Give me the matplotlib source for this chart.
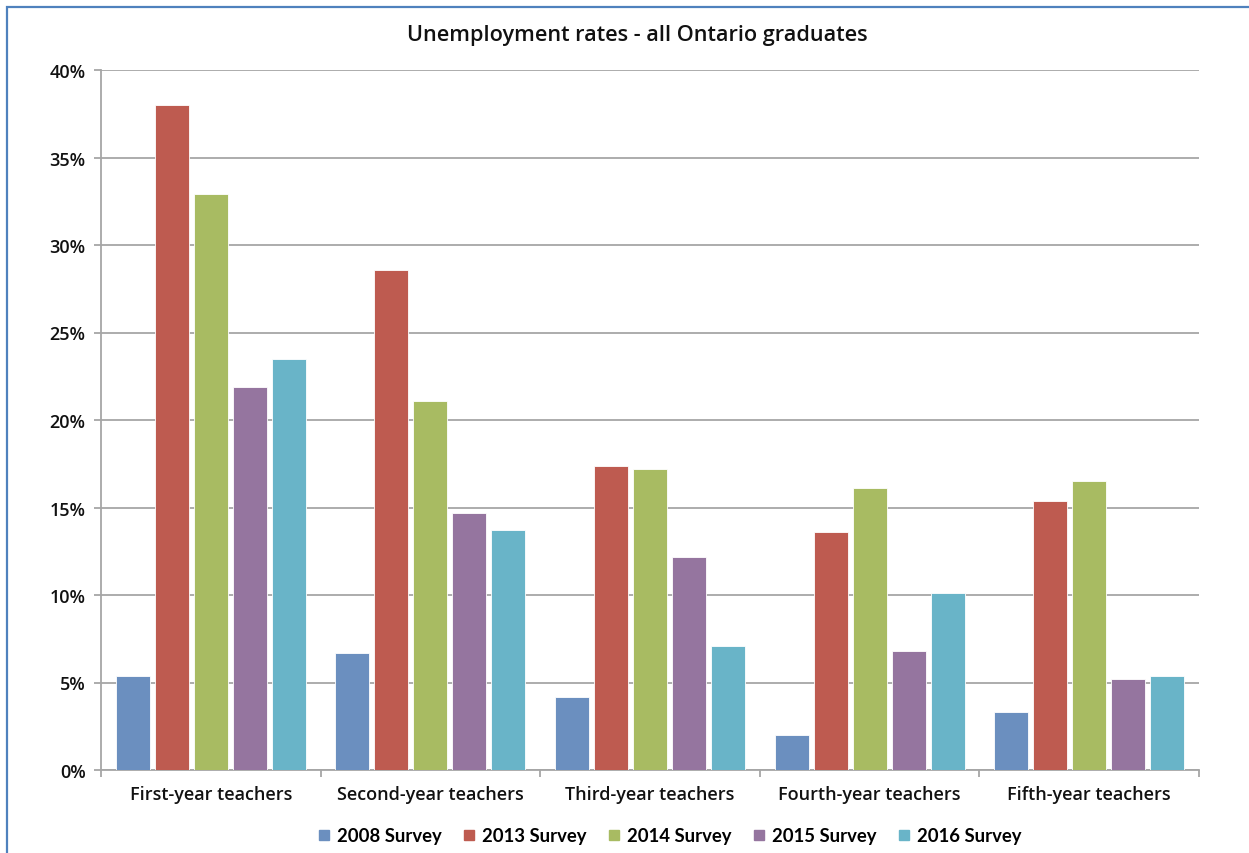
import matplotlib
matplotlib.use("Agg")
import matplotlib.pyplot as plt
import numpy as np
from matplotlib.patches import Rectangle
from matplotlib.lines import Line2D

categories = ["First-year teachers", "Second-year teachers", "Third-year teachers",
              "Fourth-year teachers", "Fifth-year teachers"]
series_names = ["2008 Survey", "2013 Survey", "2014 Survey", "2015 Survey", "2016 Survey"]
s2008 = [5.4, 6.7, 4.2, 2.0, 3.3]
s2013 = [38.0, 28.6, 17.4, 13.6, 15.4]
s2014 = [32.9, 21.1, 17.2, 16.1, 16.5]
s2015 = [21.9, 14.7, 12.2, 6.8, 5.2]
s2016 = [23.5, 13.7, 7.1, 10.1, 5.4]
yticks = [0, 5, 10, 15, 20, 25, 30, 35, 40]
ytick_labels = ["0%", "5%", "10%", "15%", "20%", "25%", "30%", "35%", "40%"]
title = "Unemployment rates - all Ontario graduates"

colors = ["#6B8FBF", "#BE5B50", "#A8BB62", "#95759F", "#69B4C8"]
font = ["Open Sans", "DejaVu Sans"]
plt.rcParams['font.family'] = font

fig = plt.figure(figsize=(12.49, 8.54), dpi=100)
ax = fig.add_axes([101/1249, 1-771/854, (1199-101)/1249, (771-71)/854])

data = [s2008, s2013, s2014, s2015, s2016]
x = np.arange(len(categories))
pitch = 0.1776
bw = 0.155
for i, (vals, c, name) in enumerate(zip(data, colors, series_names)):
    ax.bar(x + (i - 2) * pitch, vals, width=bw, color=c, edgecolor="white",
           linewidth=0.6, label=name, zorder=3)

ax.set_xlim(-0.5, len(categories) - 0.5)
ax.set_ylim(0, 40)
ax.set_yticks(yticks)
ax.set_yticklabels(ytick_labels)
ax.yaxis.grid(True, color="#A6A6A6", linewidth=1.3, zorder=0)
ax.set_axisbelow(True)

ax.set_xticks(x)
ax.set_xticklabels(categories)
ax.set_xticks(np.arange(len(categories) + 1) - 0.5, minor=True)
ax.tick_params(axis="x", which="major", length=0, pad=11, labelsize=13, labelcolor="#111111")
ax.tick_params(axis="x", which="minor", length=5, width=1.3, color="#A6A6A6")
ax.tick_params(axis="y", length=5, width=1.3, color="#A6A6A6", pad=6, labelsize=13, labelcolor="#111111")
for lab in ax.get_xticklabels():
    lab.set_fontweight("semibold")
for lab in ax.get_yticklabels():
    lab.set_fontweight("semibold")

for s in ["top", "right"]:
    ax.spines[s].set_visible(False)
for s in ["left", "bottom"]:
    ax.spines[s].set_color("#A6A6A6")
    ax.spines[s].set_linewidth(1.3)

fig.text(637/1249, 1-35/854, title, ha="center", va="center", fontsize=15.6,
         fontweight="semibold", color="#111111")

handles = [Line2D([0], [0], marker="s", linestyle="none", markersize=7.5,
                  markerfacecolor=c, markeredgecolor=c) for c in colors]
fig.legend(handles, series_names, loc="center", bbox_to_anchor=(669/1249, 1-837/854),
           ncol=5, frameon=False, handlelength=0.8, handletextpad=0.3, columnspacing=1.1,
           prop={"family": ["Lato", "DejaVu Sans"], "weight": "bold", "size": 13.3})

# figure border (blue), top and left visible
fig.patches.append(Rectangle((6.5/1249, -0.1), 1.2, 1.1 - 7.5/854, transform=fig.transFigure,
                             fill=False, edgecolor="#4F81BD", linewidth=1.6, clip_on=False))

fig.savefig("out.png", dpi=100, facecolor="white")
